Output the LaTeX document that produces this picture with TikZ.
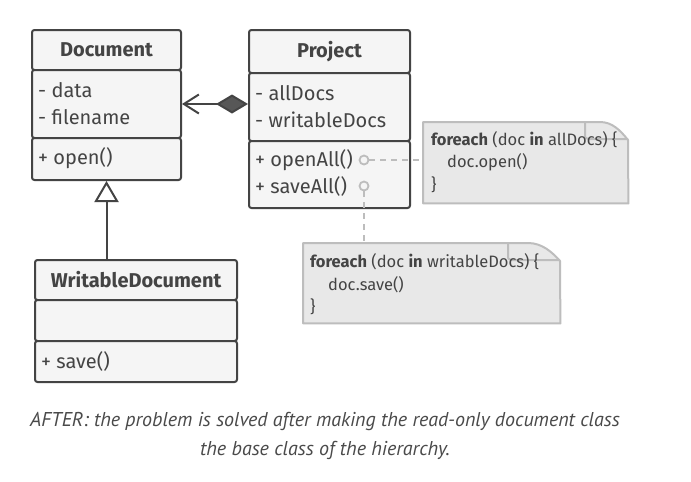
\documentclass[tikz,border=0pt]{standalone}
\usepackage{fontspec}
\setmainfont{Fira Sans}
\newfontfamily\capfont{PT Sans}
\usetikzlibrary{arrows.meta}
\definecolor{ink}{HTML}{444444}
\definecolor{boxfill}{HTML}{F5F5F5}
\definecolor{notefill}{HTML}{E8E8E8}
\definecolor{noteline}{HTML}{BDBDBD}
\definecolor{captext}{HTML}{4A4A4A}
\begin{document}
\begin{tikzpicture}[x=1pt,y=-1pt,
  sect/.style={draw=ink, fill=boxfill, line width=2pt, rounded corners=2.5pt, anchor=north west, inner sep=0pt},
  cname/.style={text=ink, font=\fontsize{20}{24}\selectfont\bfseries, inner sep=0pt},
  member/.style={text=ink, font=\fontsize{20}{24}\selectfont, anchor=west, inner sep=0pt},
  notebox/.style={anchor=north west, inner sep=0pt},
  notetext/.style={text=ink, font=\fontsize{16.5}{19}\selectfont, anchor=west, inner sep=0pt},
  notedraw/.style={draw=noteline, fill=notefill, line width=2pt, line join=round},
  pin/.style={circle, draw=noteline, line width=1.8pt, fill=boxfill, minimum size=9pt, inner sep=0pt},
  link/.style={draw=noteline, line width=2pt, dash pattern=on 6pt off 5pt},
  conn/.style={draw=ink, line width=2pt},
  captn/.style={text=captext, font=\capfont\itshape\fontsize{20}{24}\selectfont, inner sep=0pt}
]
\useasboundingbox[fill=white] (0,0) rectangle (691,482);

% Document
\node[sect, minimum width=149pt, minimum height=40pt] (dochead) at (31,29) {};
\node[sect, minimum width=149pt, minimum height=68pt] (docattr) at (31,69) {};
\node[sect, minimum width=149pt, minimum height=42pt] (docmeth) at (31,137) {};
\node[cname] (t1) at (dochead.center) {Document};
\node[member] (t2) at (38,90) {- data};
\node[member] (t3) at (38,117) {- filename};
\node[member] (t4) at (38,158) {+ open()};

% Project
\node[sect, minimum width=161pt, minimum height=43pt] (prjhead) at (248,29) {};
\node[sect, minimum width=161pt, minimum height=68pt] (prjattr) at (248,72) {};
\node[sect, minimum width=161pt, minimum height=67pt] (prjmeth) at (248,140) {};
\node[cname] (t5) at (prjhead.center) {Project};
\node[member] (t6) at (255,93) {- allDocs};
\node[member] (t7) at (255,120) {- writableDocs};
\node[member] (t8) at (255,160) {+ openAll()};
\node[member] (t9) at (255,186) {+ saveAll()};

% WritableDocument
\node[sect, minimum width=202pt, minimum height=40pt] (wdhead) at (34,259) {};
\node[sect, minimum width=202pt, minimum height=41pt] (wdattr) at (34,299) {};
\node[sect, minimum width=202pt, minimum height=41pt] (wdmeth) at (34,340) {};
\node[cname] (t10) at (wdhead.center) {WritableDocument};
\node[member] (t11) at (41,361) {+ save()};

% relations
\draw[conn, {Diamond[length=32pt,width=19pt,fill=ink!90]}-{Straight Barb[length=15pt,width=19pt,line width=2pt]}]
  (docattr.east -| prjattr.west) -- (docattr.east);
\draw[conn, -{Triangle[open,length=21pt,width=24pt,line width=2pt,fill=white]}]
  (docmeth.south |- wdhead.north) -- (docmeth.south);

% notes
\node[notebox, minimum width=205pt, minimum height=81pt] (note1) at (423,122) {};
\draw[notedraw] (note1.north west) -- (600,122) .. controls (612,122) and (620,130) .. (628,140) -- (note1.south east) -- (note1.south west) -- cycle;
\draw[noteline, line width=2pt] (585,122) -- (585,134) .. controls (585,138) .. (589,139) -- (628,139);
\node[notetext] (n1) at (431,140) {\textbf{foreach} (doc \textbf{in} allDocs) \{};
\node[notetext] (n2) at (447,162) {doc.open()};
\node[notetext] (n3) at (431,185) {\}};

\node[notebox, minimum width=257pt, minimum height=80pt] (note2) at (303,243) {};
\draw[notedraw] (note2.north west) -- (528,243) .. controls (542,243) and (552,252) .. (560,261) -- (note2.south east) -- (note2.south west) -- cycle;
\draw[noteline, line width=2pt] (508,243) -- (508,255) .. controls (508,259) .. (512,260) -- (560,260);
\node[notetext] (n4) at (310,262) {\textbf{foreach} (doc \textbf{in} writableDocs) \{};
\node[notetext] (n5) at (328,285) {doc.save()};
\node[notetext] (n6) at (310,307) {\}};

% pins and links
\node[pin] (c1) at (364,160) {};
\node[pin] (c2) at (364,186) {};
\draw[link] (c1.east) -- (c1.east -| note1.west);
\draw[link] (c2.south) -- (c2.south |- note2.north);

% caption
\node[captn] (cap1) at (325,421) {AFTER: the problem is solved after making the read-only document class};
\node[captn] (cap2) at (325,450) {the base class of the hierarchy.};
\end{tikzpicture}
\end{document}
